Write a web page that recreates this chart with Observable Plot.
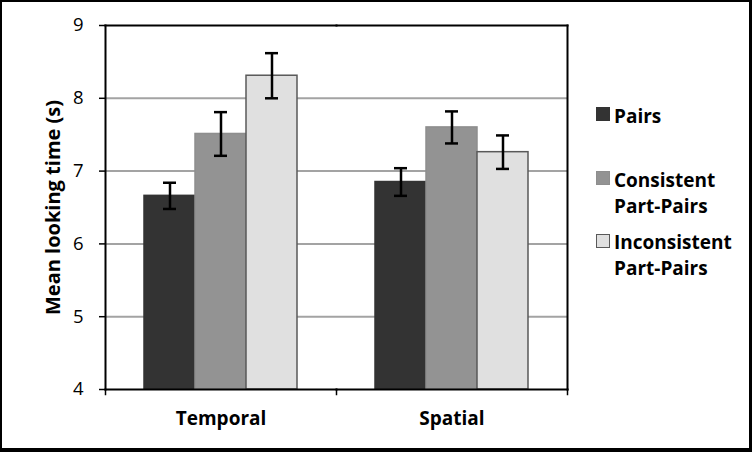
<!DOCTYPE html>
<html>
<head>
<meta charset="utf-8">
<script src="https://cdn.jsdelivr.net/npm/d3@7"></script>
<script src="https://cdn.jsdelivr.net/npm/@observablehq/plot@0.6"></script>
<style>
html, body { margin: 0; padding: 0; background: #fff; }
#wrap { position: relative; width: 752px; height: 452px; overflow: hidden; background: #fff; font-family: "Open Sans", sans-serif; }
#wrap svg { position: absolute; left: 0; top: 0; }
#border { position: absolute; left: 0; top: 0; right: 0; bottom: 0; border: 2px solid #000; border-right-width: 3px; border-bottom-width: 4px; pointer-events: none; }
.swatch { position: absolute; width: 14px; height: 14px; box-sizing: border-box; }
.label { position: absolute; width: 132px; font-weight: 700; font-size: 19px; line-height: 26px; color: #000; }
</style>
</head>
<body>
<div id="wrap"><div id="border"></div></div>
<script>
// ---- data ----
const categories = ["Temporal", "Spatial"];
const series = ["Pairs", "Consistent Part-Pairs", "Inconsistent Part-Pairs"];
const temporalMeans = [6.66, 7.51, 8.31];
const temporalErrors = [0.18, 0.30, 0.31];
const spatialMeans = [6.85, 7.60, 7.26];
const spatialErrors = [0.19, 0.22, 0.23];
const yTicks = [4, 5, 6, 7, 8, 9];
const gridTicks = [5, 6, 7, 8];
const yLabel = "Mean looking time (s)";
const fills = ["#333333", "#939393", "#e0e0e0"];
const strokes = ["#333333", "#8e8e8e", "#595959"];

const rows = [];
categories.forEach((c, ci) => {
  const means = ci === 0 ? temporalMeans : spatialMeans;
  const errs = ci === 0 ? temporalErrors : spatialErrors;
  series.forEach((s, si) => rows.push({
    category: c, series: s, mean: means[si],
    lo: means[si] - errs[si], hi: means[si] + errs[si]
  }));
});

const W = 752, H = 452, mL = 104, mR = 185, mT = 25, mB = 63;
const innerH = H - mT - mB;
const fillOf = d => fills[series.indexOf(d.series)];
const strokeOf = d => strokes[series.indexOf(d.series)];

const chart = Plot.plot({
  width: W, height: H,
  marginLeft: mL, marginRight: mR, marginTop: mT, marginBottom: mB,
  style: { fontFamily: '"Open Sans", sans-serif', fontSize: "18px", background: "transparent", color: "#000" },
  fx: { domain: categories, padding: 0, label: null },
  x: { domain: series, paddingInner: 0, paddingOuter: 0.75, axis: null },
  y: { domain: [yTicks[0], yTicks[yTicks.length - 1]], label: null },
  color: { type: "identity" },
  marks: [
    Plot.gridY(gridTicks, { stroke: "#a3a3a3", strokeOpacity: 1, strokeWidth: 2 }),
    Plot.barY(rows, { fx: "category", x: "series", y1: yTicks[0], y2: "mean", fill: fillOf, stroke: strokeOf, strokeWidth: 1.5 }),
    Plot.ruleX(rows, { fx: "category", x: "series", y1: "lo", y2: "hi", stroke: "#000", strokeWidth: 2.5 }),
    Plot.tickY(rows, { fx: "category", x: "series", y: "lo", stroke: "#000", strokeWidth: 2.5, insetLeft: 19, insetRight: 19 }),
    Plot.tickY(rows, { fx: "category", x: "series", y: "hi", stroke: "#000", strokeWidth: 2.5, insetLeft: 19, insetRight: 19 }),
    Plot.frame({ anchor: "top", stroke: "#000", strokeWidth: 2 }),
    Plot.frame({ anchor: "bottom", stroke: "#000", strokeWidth: 2 }),
    Plot.frame({ anchor: "left", facetAnchor: "left", stroke: "#000", strokeWidth: 2 }),
    Plot.frame({ anchor: "right", facetAnchor: "right", stroke: "#000", strokeWidth: 2 }),
    Plot.frame({ anchor: "left", insetTop: innerH, insetBottom: -5, stroke: "#000", strokeWidth: 1.5 }),
    Plot.frame({ anchor: "right", facetAnchor: "right", insetTop: innerH, insetBottom: -5, stroke: "#000", strokeWidth: 1.5 }),
    Plot.axisY({ ticks: yTicks, tickFormat: d3.format("d"), tickSize: 6, tickPadding: 16, fontSize: 18.5, label: null, stroke: "#000", strokeWidth: 1.5 }),
    Plot.axisY({ ticks: [], tickSize: 0, label: yLabel, labelAnchor: "center", labelArrow: "none", labelOffset: 60, fontSize: 20, fontWeight: "bold" }),
    Plot.axisFx({ anchor: "bottom", tickSize: 0, tickPadding: 22, fontSize: 19, fontWeight: "bold", label: null })
  ]
});

const wrap = document.getElementById("wrap");
wrap.insertBefore(chart, document.getElementById("border"));

// ---- legend (HTML, beside the plot) ----
const swatchTops = [107, 171, 234];
const labelTops = [103, 167, 229];
series.forEach((s, i) => {
  const sw = document.createElement("div");
  sw.className = "swatch";
  sw.style.left = "596px";
  sw.style.top = swatchTops[i] + "px";
  sw.style.background = fills[i];
  sw.style.border = "1.5px solid " + strokes[i];
  wrap.appendChild(sw);
  const lb = document.createElement("div");
  lb.className = "label";
  lb.style.left = "614px";
  lb.style.top = labelTops[i] + "px";
  lb.textContent = s;
  wrap.appendChild(lb);
});
</script>
</body>
</html>
